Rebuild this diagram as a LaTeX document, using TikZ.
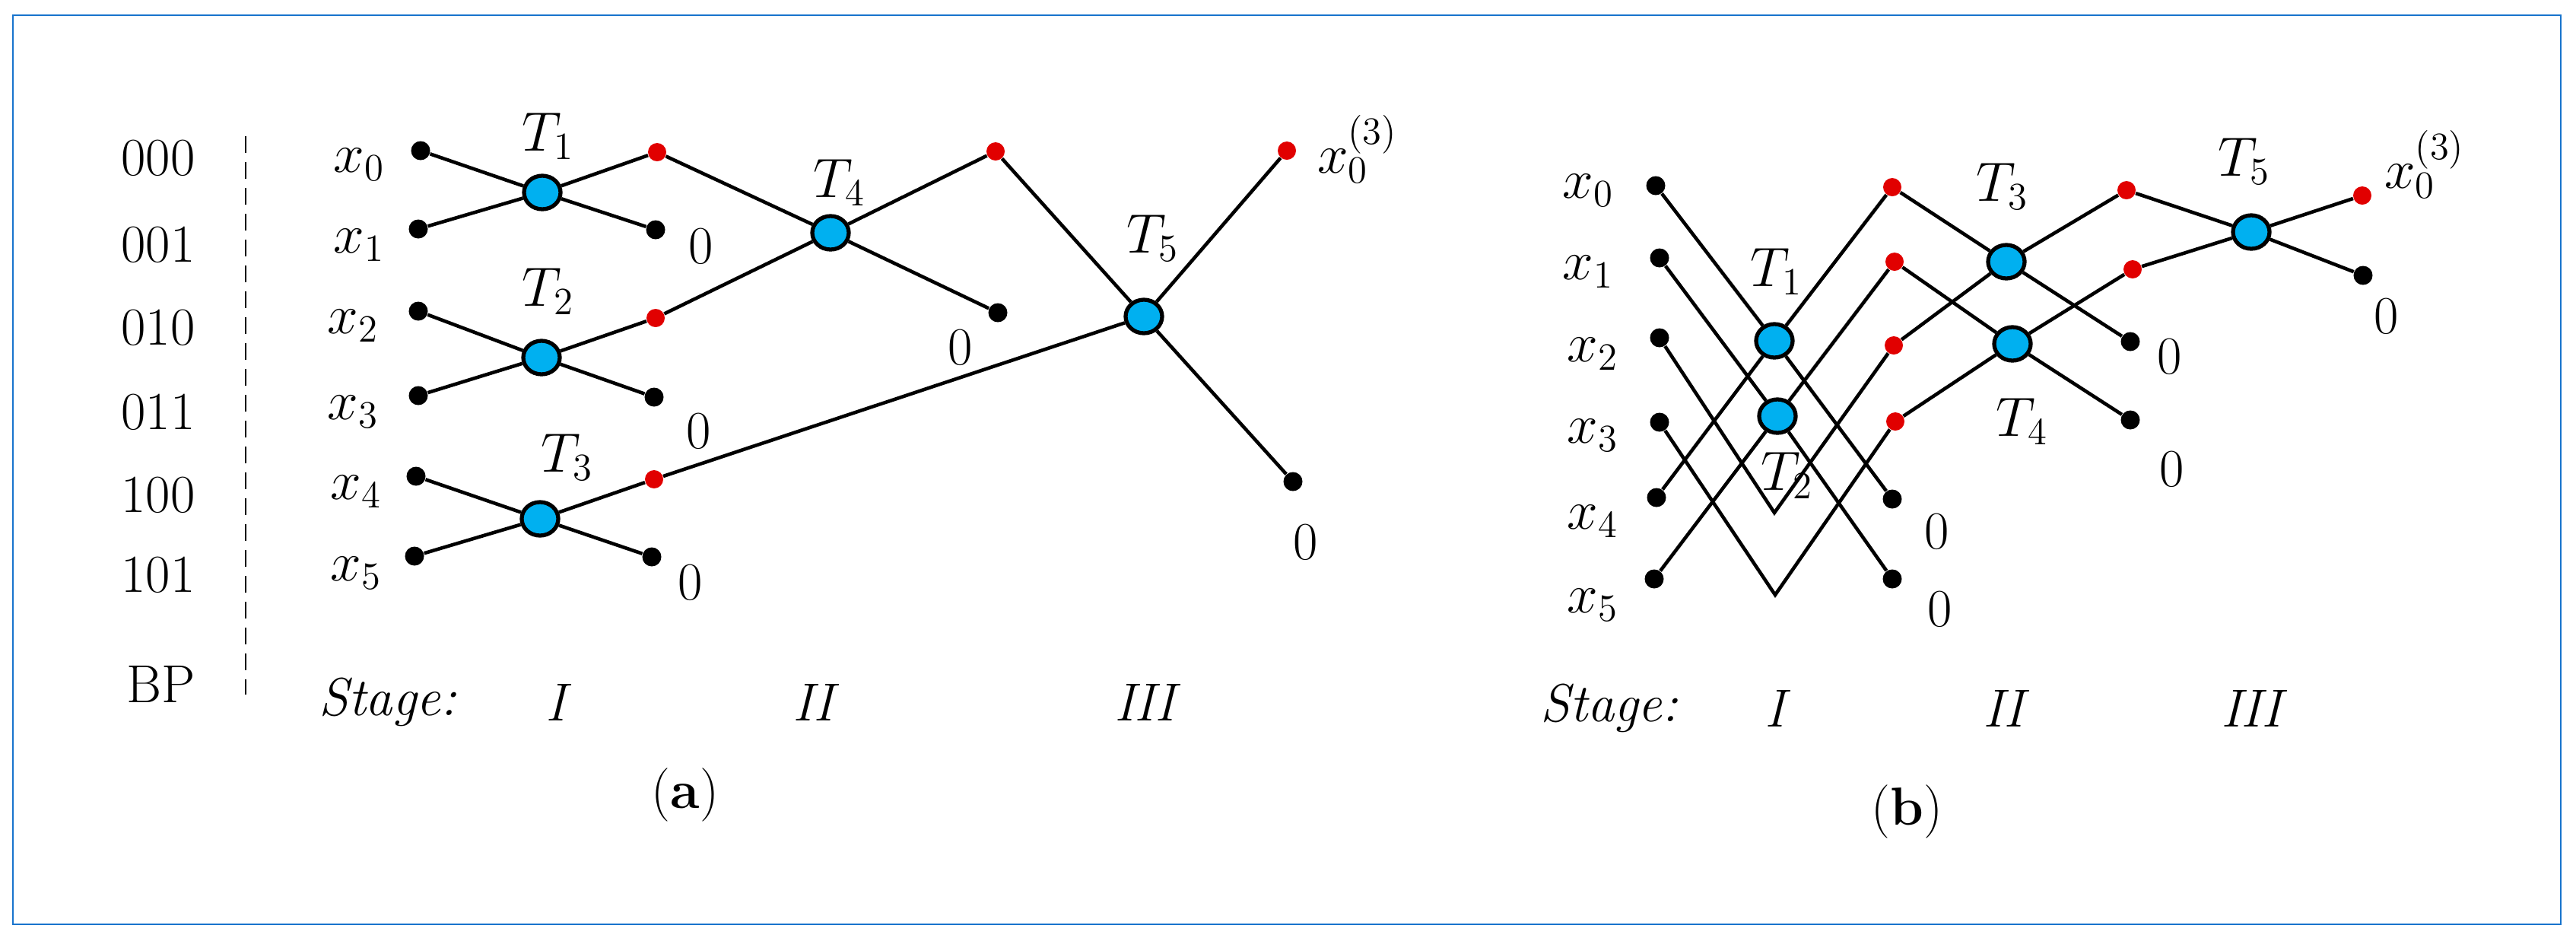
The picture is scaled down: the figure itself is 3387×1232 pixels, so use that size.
\documentclass[tikz,border=0pt]{standalone}
\usetikzlibrary{shapes.geometric}
\definecolor{framec}{RGB}{24,116,205}
\definecolor{bfill}{RGB}{0,176,240}
\definecolor{rdot}{RGB}{225,0,0}
\begin{document}
\begin{tikzpicture}[x=0.01cm,y=-0.01cm,
  lbl/.style={font=\fontsize{20}{24}\selectfont, inner sep=0pt},
  bdot/.style={circle,fill=black,inner sep=0pt,minimum size=0.25cm},
  rdotn/.style={circle,fill=rdot,inner sep=0pt,minimum size=0.24cm},
  bfly/.style={ellipse,draw=black,line width=1.5pt,fill=bfill,inner sep=0pt,minimum width=0.48cm,minimum height=0.44cm},
  wire/.style={line width=1.3pt}]
\useasboundingbox (0,0) rectangle (3387,1232);
\draw[framec,line width=0.7pt] (17,20) rectangle (3367,1215);

% ---------------- Panel (a) ----------------
% bit patterns
\node[lbl] (bp0) at (208,208) {000};
\node[lbl] (bp1) at (208,322) {001};
\node[lbl] (bp2) at (208,431) {010};
\node[lbl] (bp3) at (208,542) {011};
\node[lbl] (bp4) at (208,651) {100};
\node[lbl] (bp5) at (208,756) {101};
\node[lbl] (bpl) at (212,899) {BP};
\coordinate (dashtop) at (323,179);
\coordinate (dashbot) at (323,913);
\draw[line width=0.85pt,dash pattern=on 0.22cm off 0.12cm] (dashtop) -- (dashbot);

% inputs
\node[lbl] (ax0) at (472,216) {$x_0$};
\node[lbl] (ax1) at (472,322) {$x_1$};
\node[lbl] (ax2) at (464,428) {$x_2$};
\node[lbl] (ax3) at (464,541) {$x_3$};
\node[lbl] (ax4) at (468,646) {$x_4$};
\node[lbl] (ax5) at (468,753) {$x_5$};
\node[bdot] (a0) at (553,198) {};
\node[bdot] (a1) at (550,301) {};
\node[bdot] (a2) at (550,409) {};
\node[bdot] (a3) at (550,520) {};
\node[bdot] (a4) at (547,626) {};
\node[bdot] (a5) at (545,731) {};

% stage I
\node[bfly] (A1) at (713,253) {};
\node[bfly] (A2) at (712,470) {};
\node[bfly] (A3) at (710,682) {};
\node[rdotn] (ra0) at (864,200) {};
\node[bdot] (za0) at (862,302) {};
\node[rdotn] (ra1) at (862,418) {};
\node[bdot] (za1) at (860,522) {};
\node[rdotn] (ra2) at (860,630) {};
\node[bdot] (za2) at (857,732) {};
% stage II
\node[bfly] (A4) at (1092,306) {};
\node[rdotn] (rb0) at (1309,199) {};
\node[bdot] (zb0) at (1312,411) {};
% stage III
\node[bfly] (A5) at (1504,416) {};
\node[rdotn] (rc0) at (1692,198) {};
\node[bdot] (zc0) at (1700,633) {};

\draw[wire] (a0) -- (A1) -- (za0);
\draw[wire] (a1) -- (A1) -- (ra0);
\draw[wire] (a2) -- (A2) -- (za1);
\draw[wire] (a3) -- (A2) -- (ra1);
\draw[wire] (a4) -- (A3) -- (za2);
\draw[wire] (a5) -- (A3) -- (ra2);
\draw[wire] (ra0) -- (A4) -- (zb0);
\draw[wire] (ra1) -- (A4) -- (rb0);
\draw[wire] (rb0) -- (A5) -- (zc0);
\draw[wire] (ra2) -- (A5) -- (rc0);

\node[lbl] (aT1) at (721,179) {$T_1$};
\node[lbl] (aT2) at (721,383) {$T_2$};
\node[lbl] (aT3) at (746,601) {$T_3$};
\node[lbl] (aT4) at (1104,240) {$T_4$};
\node[lbl] (aT5) at (1516,313) {$T_5$};
\node[lbl] (a0z0) at (922,324) {0};
\node[lbl] (a0z1) at (919,567) {0};
\node[lbl] (a0z2) at (908,766) {0};
\node[lbl] (a0z3) at (1263,457) {0};
\node[lbl] (a0z4) at (1717,713) {0};
\node[lbl] (aout) at (1785,196) {$x_0^{(3)}$};

\node[lbl] (ast) at (510,923) {\textit{Stage:}};
\node[lbl] (as1) at (735,923) {\textit{I}};
\node[lbl] (as2) at (1073,923) {\textit{II}};
\node[lbl] (as3) at (1509,923) {\textit{III}};
\node[lbl] (acap) at (901,1045) {(\textbf{a})};

% ---------------- Panel (b) ----------------
\node[lbl] (bx0) at (2088,250) {$x_0$};
\node[lbl] (bx1) at (2088,357) {$x_1$};
\node[lbl] (bx2) at (2094,465) {$x_2$};
\node[lbl] (bx3) at (2094,572) {$x_3$};
\node[lbl] (bx4) at (2094,685) {$x_4$};
\node[lbl] (bx5) at (2094,795) {$x_5$};
\node[bdot] (d0) at (2177,244) {};
\node[bdot] (d1) at (2182,339) {};
\node[bdot] (d2) at (2182,444) {};
\node[bdot] (d3) at (2182,555) {};
\node[bdot] (d4) at (2178,654) {};
\node[bdot] (d5) at (2175,761) {};

\node[bfly] (B1) at (2333,448) {};
\node[bfly] (B2) at (2337,547) {};
\coordinate (V2) at (2333,674);
\coordinate (V3) at (2334,782);
\node[rdotn] (r0) at (2488,246) {};
\node[rdotn] (r1) at (2491,344) {};
\node[rdotn] (r2) at (2490,454) {};
\node[rdotn] (r3) at (2492,554) {};
\node[bdot] (z0) at (2488,656) {};
\node[bdot] (z1) at (2488,761) {};

\node[bfly] (B3) at (2638,344) {};
\node[bfly] (B4) at (2646,452) {};
\node[rdotn] (s0) at (2796,250) {};
\node[rdotn] (s1) at (2804,354) {};
\node[bdot] (y0) at (2801,449) {};
\node[bdot] (y1) at (2801,552) {};

\node[bfly] (B5) at (2960,305) {};
\node[rdotn] (fr) at (3106,257) {};
\node[bdot] (fz) at (3107,362) {};

\draw[wire] (d0) -- (B1) -- (z0);
\draw[wire] (d4) -- (B1) -- (r0);
\draw[wire] (d1) -- (B2) -- (z1);
\draw[wire] (d5) -- (B2) -- (r1);
\draw[wire] (d2) -- (V2) -- (r2);
\draw[wire] (d3) -- (V3) -- (r3);
\draw[wire] (r0) -- (B3) -- (y0);
\draw[wire] (r2) -- (B3) -- (s0);
\draw[wire] (r1) -- (B4) -- (y1);
\draw[wire] (r3) -- (B4) -- (s1);
\draw[wire] (s0) -- (B5) -- (fz);
\draw[wire] (s1) -- (B5) -- (fr);

\node[lbl] (bT1) at (2336,357) {$T_1$};
\node[lbl] (bT2) at (2350,625) {$T_2$};
\node[lbl] (bT3) at (2633,245) {$T_3$};
\node[lbl] (bT4) at (2659,554) {$T_4$};
\node[lbl] (bT5) at (2951,212) {$T_5$};
\node[lbl] (b0z0) at (2547,699) {0};
\node[lbl] (b0z1) at (2551,801) {0};
\node[lbl] (b0z2) at (2853,469) {0};
\node[lbl] (b0z3) at (2856,617) {0};
\node[lbl] (b0z4) at (3138,416) {0};
\node[lbl] (bout) at (3188,216) {$x_0^{(3)}$};

\node[lbl] (bst) at (2116,931) {\textit{Stage:}};
\node[lbl] (bs1) at (2338,931) {\textit{I}};
\node[lbl] (bs2) at (2638,931) {\textit{II}};
\node[lbl] (bs3) at (2964,931) {\textit{III}};
\node[lbl] (bcap) at (2507,1067) {(\textbf{b})};
\end{tikzpicture}
\end{document}
